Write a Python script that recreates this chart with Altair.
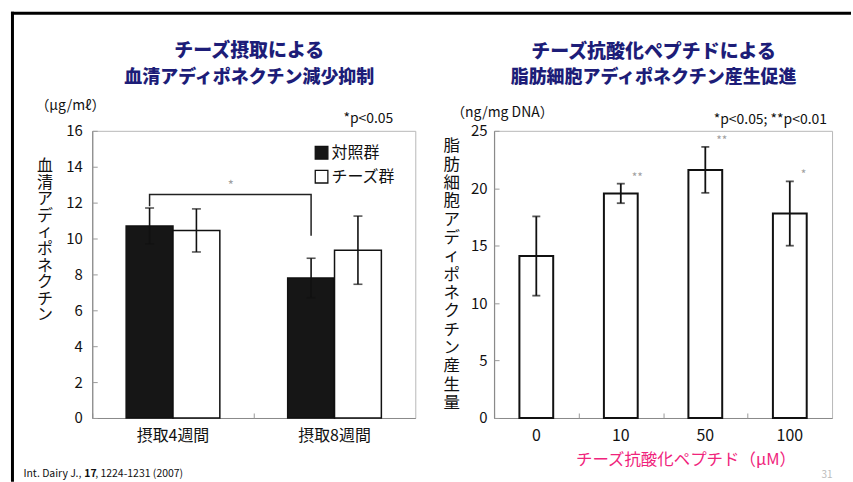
import altair as alt
import pandas as pd

FONT = "Noto Sans CJK JP"
NAVY = "#1d1d78"
PINK = "#f0247c"
INK = "#111111"

# ---- left panel: serum adiponectin (µg/mL) ----
periods = ["摂取4週間", "摂取8週間"]
groups = ["対照群", "チーズ群"]
control_mean = [10.7, 7.8]
control_err = [1.0, 1.1]
cheese_mean = [10.45, 9.35]
cheese_err = [1.2, 1.9]
left_ticks = [0, 2, 4, 6, 8, 10, 12, 14, 16]

# significance bracket joining the two control bars
bracket_period = ["摂取4週間", "摂取4週間", "摂取8週間", "摂取8週間"]
bracket_y = [11.8, 12.45, 12.45, 10.15]

# ---- right panel: adiponectin production by adipocytes (ng/mg DNA) ----
doses = ["0", "10", "50", "100"]
dose_mean = [14.1, 19.55, 21.6, 17.8]
dose_err = [3.45, 0.85, 2.0, 2.8]
dose_sig = ["", "**", "**", "*"]
right_ticks = [0, 5, 10, 15, 20, 25]

LW, LH = 324, 288
RW, RH = 339, 288

rows = []
for g, means, errs in [(groups[0], control_mean, control_err), (groups[1], cheese_mean, cheese_err)]:
    for p, m, e in zip(periods, means, errs):
        rows.append({"period": p, "group": g, "mean": m, "lo": m - e, "hi": m + e})
left_df = pd.DataFrame(rows)

bracket_df = pd.DataFrame({
    "period": bracket_period,
    "group": [groups[0]] * 4,
    "y": bracket_y,
    "seq": list(range(4)),
})
star_df = pd.DataFrame({"period": [periods[0]], "y": [max(bracket_y)]})

right_df = pd.DataFrame({
    "dose": doses,
    "mean": dose_mean,
    "lo": [m - e for m, e in zip(dose_mean, dose_err)],
    "hi": [m + e for m, e in zip(dose_mean, dose_err)],
    "sig": dose_sig,
})

one = pd.DataFrame({"k": [0]})


def label(text, x, y, size=14, align="left", color=INK, weight="normal"):
    return alt.Chart(one).mark_text(
        text=text, align=align, baseline="middle", fontSize=size,
        color=color, fontWeight=weight, font=FONT,
    ).encode(x=alt.value(x), y=alt.value(y))


# ------------------------------------------------------------------ left
lx_scale = alt.Scale(domain=periods, paddingInner=0.42, paddingOuter=0.21)
ly_scale = alt.Scale(domain=[0, 16], nice=False)
off_scale = alt.Scale(domain=groups, paddingInner=0, paddingOuter=0)

lx_plain = alt.X("period:N", sort=periods, scale=lx_scale, axis=None)
off_enc = alt.XOffset("group:N", sort=groups, scale=off_scale)

left_bars = alt.Chart(left_df).mark_bar(stroke=INK, strokeWidth=1.5).encode(
    x=alt.X("period:N", sort=periods, scale=lx_scale,
            axis=alt.Axis(orient="bottom", title=None, labelAngle=0, ticks=False,
                          labelPadding=10, labelFontSize=16, labelColor=INK,
                          domainColor="#8a8a8a", domainWidth=1.2)),
    xOffset=off_enc,
    y=alt.Y("mean:Q", scale=ly_scale,
            axis=alt.Axis(orient="left", values=left_ticks, ticks=False, grid=False,
                          labelPadding=10, labelFontSize=15, labelColor=INK,
                          domainColor="#8a8a8a", domainWidth=1.2,
                          title=list("血清アディポネクチン"), titleAngle=0,
                          titleX=-48, titleY=35, titleAlign="center",
                          titleBaseline="middle", titleFontSize=16,
                          titleLineHeight=16.6, titleFontWeight="normal",
                          titleColor=INK)),
    fill=alt.Fill("group:N", sort=groups,
                  scale=alt.Scale(domain=groups, range=["#161616", "#ffffff"]),
                  legend=alt.Legend(title=None, orient="none", legendX=222, legendY=14,
                                    symbolType="square", symbolSize=160,
                                    symbolStrokeColor=INK, symbolStrokeWidth=1.3,
                                    labelFontSize=16, labelColor=INK, labelOffset=2,
                                    rowPadding=6, padding=0)),
)

# inward tick marks on the left and bottom edges
left_inner = alt.Chart(left_df).mark_point(opacity=0).encode(
    x=alt.X("period:N", sort=periods, scale=lx_scale,
            axis=alt.Axis(orient="top", offset=-LH, labels=False, domain=False,
                          tickSize=5, tickColor="#9a9a9a", bandPosition=0,
                          tickOffset=-34, title=None)),
    y=alt.Y("mean:Q", scale=ly_scale,
            axis=alt.Axis(orient="right", offset=-LW, values=left_ticks, labels=False,
                          domain=False, grid=False, tickSize=5, tickColor="#9a9a9a",
                          title=None)),
)

left_err = alt.Chart(left_df).mark_rule(color=INK, strokeWidth=1.6).encode(
    x=lx_plain, xOffset=off_enc,
    y=alt.Y("lo:Q", scale=ly_scale, axis=None), y2="hi:Q",
)
left_cap_hi = alt.Chart(left_df).mark_tick(color=INK, thickness=1.6, size=9).encode(
    x=lx_plain, xOffset=off_enc, y=alt.Y("hi:Q", scale=ly_scale, axis=None),
)
left_cap_lo = alt.Chart(left_df).mark_tick(color=INK, thickness=1.6, size=9).encode(
    x=lx_plain, xOffset=off_enc, y=alt.Y("lo:Q", scale=ly_scale, axis=None),
)
bracket = alt.Chart(bracket_df).mark_line(color="#222", strokeWidth=1.5).encode(
    x=lx_plain, xOffset=off_enc,
    y=alt.Y("y:Q", scale=ly_scale, axis=None), order="seq:O",
)
bracket_star = alt.Chart(star_df).mark_text(
    text="*", dx=11, dy=-9, color="#a0a0a0", fontSize=13, font=FONT,
).encode(
    x=alt.X("period:N", sort=periods, scale=lx_scale, axis=None, bandPosition=1),
    y=alt.Y("y:Q", scale=ly_scale, axis=None),
)

# slide frame
frame_v = alt.Chart(one).mark_rule(color="#000", strokeWidth=3).encode(
    x=alt.value(-80), y=alt.value(-119.5), y2=alt.value(352))
frame_h = alt.Chart(one).mark_rule(color="#000", strokeWidth=3).encode(
    x=alt.value(-81.5), x2=alt.value(761), y=alt.value(-118))

left = alt.layer(
    left_bars, left_inner, left_err, left_cap_hi, left_cap_lo, bracket, bracket_star,
    label("チーズ摂取による", 157.5, -80, size=19, align="center", color=NAVY, weight=900),
    label("血清アディポネクチン減少抑制", 157.5, -53, size=18, align="center", color=NAVY, weight=900),
    label("（μg/mℓ）", -57, -25, size=14),
    label("*p<0.05", 302, -12, size=14, align="right"),
    label("Int. Dairy J.,", -69, 343.7, size=10.5),
    label("17", -8, 343.7, size=10.5, weight="bold"),
    label(", 1224-1231 (2007)", 3, 343.7, size=10.5),
    frame_v, frame_h,
).properties(width=LW, height=LH)

# ------------------------------------------------------------------ right
rx_scale = alt.Scale(domain=doses, paddingInner=0.6, paddingOuter=0.3)
ry_scale = alt.Scale(domain=[0, 25], nice=False)
rx_plain = alt.X("dose:N", sort=doses, scale=rx_scale, axis=None)

right_bars = alt.Chart(right_df).mark_bar(fill="#ffffff", stroke=INK, strokeWidth=2).encode(
    x=alt.X("dose:N", sort=doses, scale=rx_scale,
            axis=alt.Axis(orient="bottom", labelAngle=0, ticks=False, labelPadding=10,
                          labelFontSize=16, labelColor=INK,
                          domainColor="#8a8a8a", domainWidth=1.2,
                          title="チーズ抗酸化ペプチド（μM）", titleColor=PINK,
                          titleFontSize=16.5, titleFontWeight="normal",
                          titleX=192, titleY=41.7, titleAlign="center",
                          titleBaseline="middle")),
    y=alt.Y("mean:Q", scale=ry_scale,
            axis=alt.Axis(orient="left", values=right_ticks, ticks=False, grid=False,
                          labelPadding=7, labelFontSize=15, labelColor=INK,
                          domainColor="#8a8a8a", domainWidth=1.2,
                          title=list("脂肪細胞アディポネクチン産生量"), titleAngle=0,
                          titleX=-43, titleY=15, titleAlign="center",
                          titleBaseline="middle", titleFontSize=16.5,
                          titleLineHeight=18.4, titleFontWeight="normal",
                          titleColor=INK)),
)

right_inner = alt.Chart(right_df).mark_point(opacity=0).encode(
    x=alt.X("dose:N", sort=doses, scale=rx_scale,
            axis=alt.Axis(orient="top", offset=-RH, labels=False, domain=False,
                          tickSize=5, tickColor="#9a9a9a", bandPosition=0,
                          tickOffset=-25.4, title=None)),
    y=alt.Y("mean:Q", scale=ry_scale,
            axis=alt.Axis(orient="right", offset=-RW, values=right_ticks, labels=False,
                          domain=False, grid=False, tickSize=5, tickColor="#9a9a9a",
                          title=None)),
)

right_err = alt.Chart(right_df).mark_rule(color=INK, strokeWidth=1.8).encode(
    x=rx_plain, y=alt.Y("lo:Q", scale=ry_scale, axis=None), y2="hi:Q",
)
right_cap_hi = alt.Chart(right_df).mark_tick(color=INK, thickness=1.8, size=8).encode(
    x=rx_plain, y=alt.Y("hi:Q", scale=ry_scale, axis=None),
)
right_cap_lo = alt.Chart(right_df).mark_tick(color=INK, thickness=1.8, size=8).encode(
    x=rx_plain, y=alt.Y("lo:Q", scale=ry_scale, axis=None),
)
right_sig = alt.Chart(right_df).mark_text(
    align="left", baseline="middle", dx=11, dy=-6, color="#a0a0a0", fontSize=12, font=FONT,
).encode(
    x=rx_plain, y=alt.Y("hi:Q", scale=ry_scale, axis=None), text="sig:N",
)

right = alt.layer(
    right_bars, right_inner, right_err, right_cap_hi, right_cap_lo, right_sig,
    label("チーズ抗酸化ペプチドによる", 160, -79, size=19, align="center", color=NAVY, weight=900),
    label("脂肪細胞アディポネクチン産生促進", 160, -53, size=18, align="center", color=NAVY, weight=900),
    label("（ng/mg DNA）", -43, -18, size=14),
    label("*p<0.05; **p<0.01", 334, -11, size=14, align="right"),
    label("31", 334, 345, size=10, align="center", color="#bbbbbb"),
).properties(width=RW, height=RH)

chart = (
    alt.hconcat(left, right, spacing=79, bounds="flush")
    .properties(padding={"left": 8.5, "top": 8.5, "right": 0, "bottom": 0},
                background="#ffffff")
    .configure_view(stroke="#b8b8b8", strokeWidth=1)
    .configure_axis(labelFont=FONT, titleFont=FONT)
    .configure_legend(labelFont=FONT)
    .configure_text(font=FONT)
)

chart.save("out.html", embed_options={"renderer": "svg", "actions": False})
